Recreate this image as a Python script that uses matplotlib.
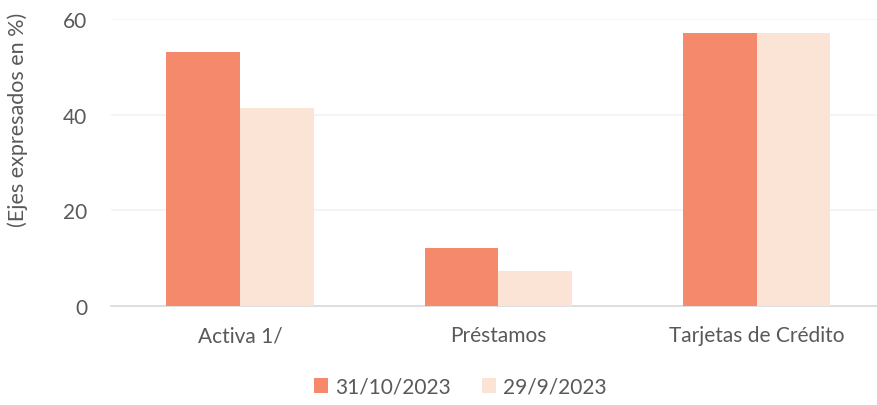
import matplotlib.pyplot as plt
import numpy as np

categories = ['Activa 1/', 'Préstamos', 'Tarjetas de Crédito']
series_names = ['31/10/2023', '29/9/2023']
oct_vals = [53.2, 12.1, 57.1]
sep_vals = [41.4, 7.3, 57.1]
colors = ['#F4896B', '#FBE3D6']

plt.rcParams['font.family'] = ['Lato', 'DejaVu Sans']
grey = '#595959'

fig = plt.figure(figsize=(8.78, 4.06), dpi=100)
ax = fig.add_axes([111/878, 1 - 307/406, (878 - 111)/878, 287/406])

x = np.arange(len(categories))
w = 0.286
ax.bar(x - w/2, oct_vals, w, color=colors[0], label=series_names[0], zorder=3)
ax.bar(x + w/2, sep_vals, w, color=colors[1], label=series_names[1], zorder=3)

ax.set_ylim(0, 60)
ax.set_xlim(-0.5, 2.47)
ax.set_yticks([0, 20, 40, 60])
ax.yaxis.grid(True, color='#F2F2F2', linewidth=1.2, zorder=0)
for s in ['top', 'right', 'left']:
    ax.spines[s].set_visible(False)
ax.spines['bottom'].set_color('#D9D9D9')
ax.spines['bottom'].set_linewidth(1.2)
ax.tick_params(axis='both', length=0, colors=grey, labelsize=15)
ax.tick_params(axis='y', pad=17)
ax.tick_params(axis='x', pad=14)
ax.set_xticks(x)
ax.set_xticklabels(categories)

fig.text(18/878, 1 - 120/406, '(Ejes expresados en %)', rotation=90, ha='center', va='center',
         color=grey, fontsize=15.5)

fig.legend(loc='center', bbox_to_anchor=(460/878, 1 - 388/406), ncol=2, frameon=False,
           fontsize=15, labelcolor=grey, handlelength=0.7, handleheight=0.7,
           handletextpad=0.3, columnspacing=1.5)

fig.savefig('out.png', dpi=100)
